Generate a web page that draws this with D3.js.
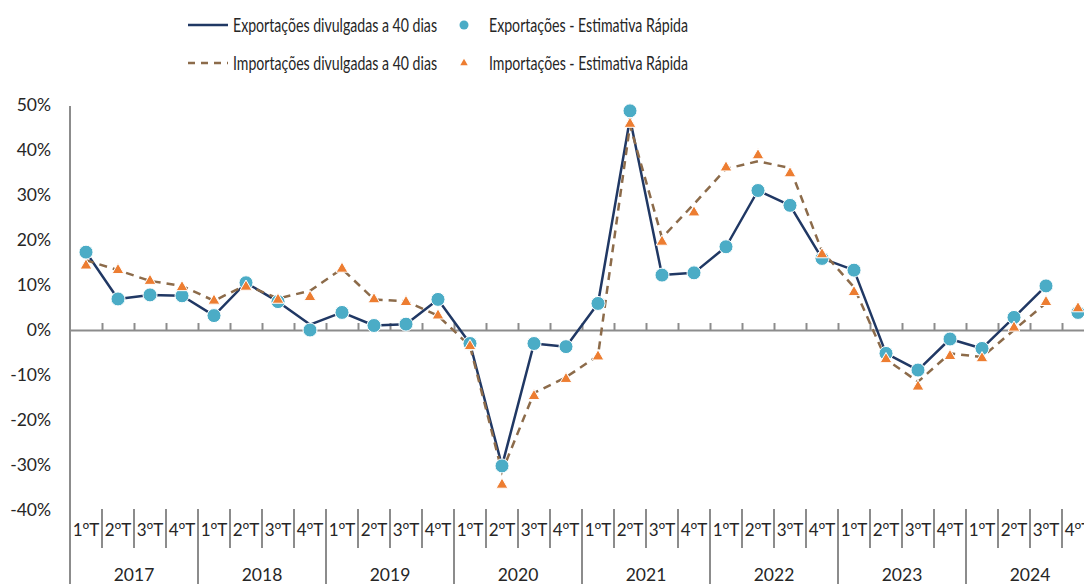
<!DOCTYPE html>
<html>
<head>
<meta charset="utf-8">
<script src="https://cdn.jsdelivr.net/npm/d3@7"></script>
<style>
  body { margin: 0; background: #fff; }
  svg text { font-family: Lato, Carlito, Calibri, sans-serif; fill: #262626; }
</style>
</head>
<body>
<script>
// categories
var quarters = ["1", "2", "3", "4"];
var years = ["2017", "2018", "2019", "2020", "2021", "2022", "2023", "2024"];
var yTicks = [-40, -30, -20, -10, 0, 10, 20, 30, 40, 50];

// Exportações divulgadas a 40 dias (line)
var exportsLine = [17.3, 6.9, 7.8, 7.6, 3.2, 10.5, 6.3, 1.2, 3.9, 1.0, 1.3, 6.8,
  -3.0, -30.2, -3.0, -3.7, 5.9, 47.0, 12.2, 12.7, 18.5, 31.0, 27.7, 15.9,
  13.3, -5.2, -8.9, -2.0, -4.1, 2.8, 9.8, null];
// Exportações - Estimativa Rápida (markers)
var exportsFlash = [17.3, 6.9, 7.8, 7.6, 3.2, 10.5, 6.3, 0.0, 3.9, 1.0, 1.3, 6.8,
  -3.0, -30.2, -3.0, -3.7, 5.9, 48.7, 12.2, 12.7, 18.5, 31.0, 27.7, 15.9,
  13.3, -5.2, -8.9, -2.0, -4.1, 2.8, 9.8, 3.9];
// Importações divulgadas a 40 dias (dashed line)
var importsLine = [15.5, 13.3, 10.9, 9.8, 6.5, 10.0, 7.0, 8.7, 13.6, 6.8, 6.4, 3.2,
  -3.6, -31.5, -14.0, -10.5, -5.7, 45.5, 20.5, 28.0, 35.8, 37.5, 36.0, 17.5,
  9.5, -6.5, -11.5, -5.2, -6.0, 0.0, 6.0, null];
// Importações - Estimativa Rápida (markers)
var importsFlash = [14.3, 13.3, 10.9, 9.5, 6.5, 9.6, 6.7, 7.3, 13.6, 6.8, 6.2, 3.2,
  -3.6, -34.4, -14.7, -10.9, -5.9, 45.8, 19.6, 26.1, 36.1, 38.8, 34.8, 16.8,
  8.4, -6.5, -12.6, -5.8, -6.3, 0.5, 6.2, 4.8];

var width = 1084, height = 584;
var axisColor = "#8c8c8c";

var svg = d3.select("body").append("svg")
    .attr("width", width)
    .attr("height", height);

// one band per quarter
var idx = d3.range(years.length * quarters.length);
var x = d3.scaleBand().domain(idx).range([70, 70 + 32 * idx.length]).padding(0);
var xb = d3.scaleLinear().domain([0, idx.length]).range([70, 70 + 32 * idx.length]);
var y = d3.scaleLinear().domain([-40, 50]).range([510, 105]);
var cx = function(i) { return x(i) + x.bandwidth() / 2; };

// Y axis labels
var yAxis = svg.append("g")
    .attr("transform", "translate(70,0)")
    .call(d3.axisLeft(y).tickValues(yTicks).tickSize(0).tickPadding(19)
      .tickFormat(function(d) { return d + "%"; }));
yAxis.select(".domain").remove();
yAxis.selectAll("text")
    .style("font-family", "Lato, Carlito, Calibri, sans-serif")
    .style("font-size", "17.5px")
    .attr("fill", "#262626");

// vertical axis line
svg.append("line")
    .attr("x1", 70).attr("x2", 70)
    .attr("y1", 106).attr("y2", height)
    .attr("stroke", axisColor).attr("stroke-width", 2);

// zero line with small ticks upwards
var xAxis = svg.append("g")
    .attr("transform", "translate(0," + y(0) + ")")
    .call(d3.axisTop(xb).tickValues(d3.range(1, idx.length + 1)).tickSize(7)
      .tickSizeOuter(0).tickFormat(""));
xAxis.select(".domain").attr("stroke", axisColor).attr("stroke-width", 2);
xAxis.selectAll(".tick line").attr("stroke", axisColor).attr("stroke-width", 2);

// category separators
svg.append("g").selectAll("line")
    .data(d3.range(1, idx.length + 1))
  .enter().append("line")
    .attr("x1", function(k) { return xb(k); })
    .attr("x2", function(k) { return xb(k); })
    .attr("y1", 509)
    .attr("y2", function(k) { return k % 4 == 0 ? height : 548; })
    .attr("stroke", axisColor).attr("stroke-width", 2);

// quarter labels (1ºT ...), ordinal sign from a font that draws it underlined
var ql = svg.append("g").selectAll("text")
    .data(idx)
  .enter().append("text")
    .attr("x", function(i) { return cx(i); })
    .attr("y", 536)
    .attr("text-anchor", "middle")
    .style("font-size", "17px");
ql.append("tspan").text(function(i) { return quarters[i % 4]; });
ql.append("tspan").style("font-family", "'Noto Sans', 'DejaVu Sans', sans-serif")
    .style("font-size", "18px").text("º");
ql.append("tspan").text("T");

// year labels
svg.append("g").selectAll("text")
    .data(years)
  .enter().append("text")
    .attr("x", function(d, j) { return xb(j * 4 + 2); })
    .attr("y", 581)
    .attr("text-anchor", "middle")
    .style("font-size", "17.5px")
    .text(function(d) { return d; });

// lines
var line = d3.line()
    .defined(function(d) { return d != null; })
    .x(function(d, i) { return cx(i); })
    .y(function(d) { return y(d); });

svg.append("path")
    .datum(exportsLine)
    .attr("d", line)
    .attr("fill", "none")
    .attr("stroke", "#203864")
    .attr("stroke-width", 2.5)
    .attr("stroke-linejoin", "round");

svg.append("path")
    .datum(importsLine)
    .attr("d", line)
    .attr("fill", "none")
    .attr("stroke", "#8c6b4a")
    .attr("stroke-width", 2.5)
    .attr("stroke-dasharray", "8,6");

// markers
svg.append("g").selectAll("circle")
    .data(exportsFlash)
  .enter().append("circle")
    .attr("cx", function(d, i) { return cx(i); })
    .attr("cy", function(d) { return y(d); })
    .attr("r", 7)
    .attr("fill", "#4bacc6")
    .attr("stroke", "#fff")
    .attr("stroke-width", 1);

var tri = d3.symbol().type(d3.symbolTriangle).size(60);
svg.append("g").selectAll("path")
    .data(importsFlash)
  .enter().append("path")
    .attr("d", tri)
    .attr("transform", function(d, i) { return "translate(" + cx(i) + "," + y(d) + ")"; })
    .attr("fill", "#ed7d31")
    .attr("stroke", "#fff")
    .attr("stroke-width", 1);

// legend
var legend = svg.append("g");
var rows = [
  {y: 25, line: "Exportações divulgadas a 40 dias", dash: null, marker: "Exportações - Estimativa Rápida", sym: "circle"},
  {y: 63, line: "Importações divulgadas a 40 dias", dash: "7,6", marker: "Importações - Estimativa Rápida", sym: "triangle"}
];
rows.forEach(function(r) {
  legend.append("line")
      .attr("x1", 188).attr("x2", 228)
      .attr("y1", r.y).attr("y2", r.y)
      .attr("stroke", r.dash ? "#8c6b4a" : "#203864")
      .attr("stroke-width", 2.5)
      .attr("stroke-dasharray", r.dash);
  legend.append("text")
      .attr("x", 233).attr("y", r.y + 6.5)
      .style("font-size", "19px")
      .attr("textLength", 204)
      .attr("lengthAdjust", "spacingAndGlyphs")
      .text(r.line);
  if (r.sym == "circle") {
    legend.append("circle")
        .attr("cx", 464).attr("cy", r.y).attr("r", 4.5)
        .attr("fill", "#4bacc6");
  } else {
    legend.append("path")
        .attr("d", d3.symbol().type(d3.symbolTriangle).size(24))
        .attr("transform", "translate(464," + r.y + ")")
        .attr("fill", "#ed7d31");
  }
  legend.append("text")
      .attr("x", 489).attr("y", r.y + 6.5)
      .style("font-size", "19px")
      .attr("textLength", 199)
      .attr("lengthAdjust", "spacingAndGlyphs")
      .text(r.marker);
});
</script>
</body>
</html>
